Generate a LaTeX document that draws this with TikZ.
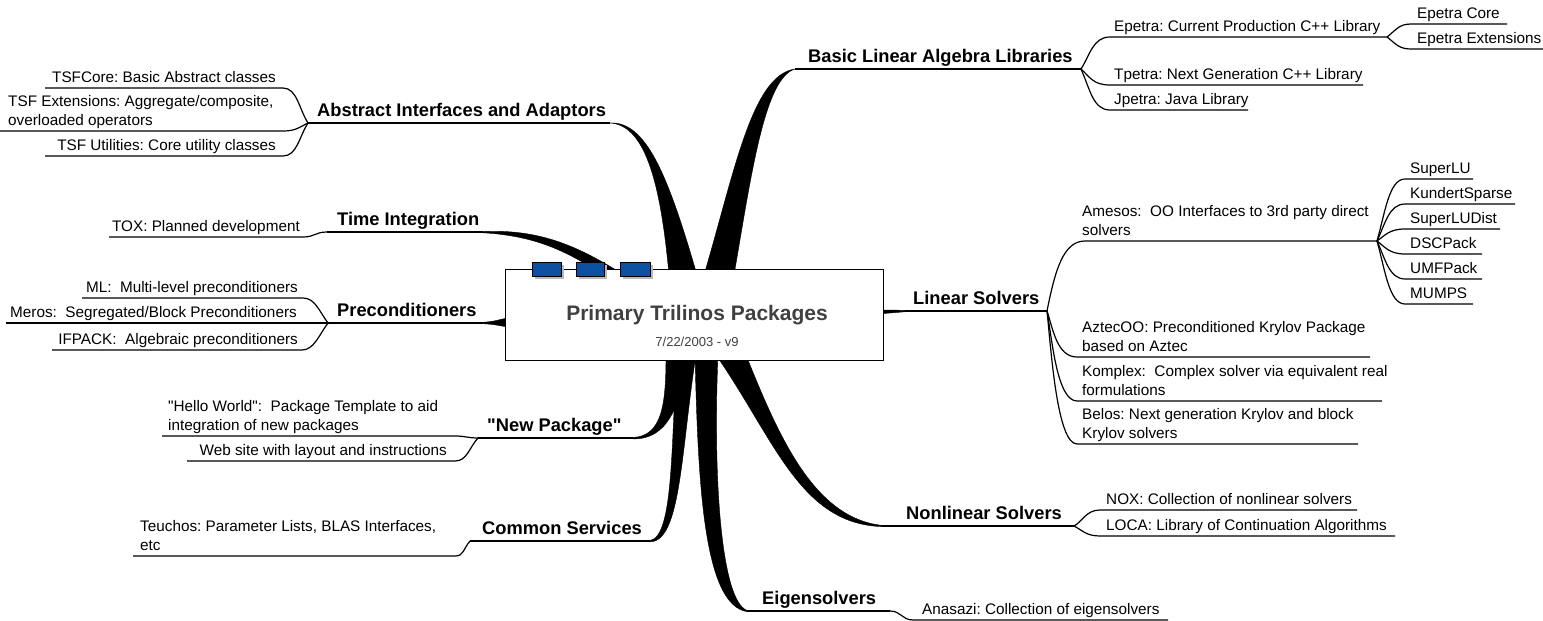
\documentclass[tikz,border=0pt]{standalone}
\usepackage{fontspec}
\setmainfont{Liberation Sans}[Ligatures=TeXOff]
\definecolor{tblue}{RGB}{12,80,162}
\definecolor{tshadow}{RGB}{185,185,185}
\definecolor{ttitle}{RGB}{64,64,64}
\frenchspacing
\begin{document}
\frenchspacing
\begin{tikzpicture}[x=1pt,y=-1pt,
  leaf/.style={inner sep=0pt, font=\fontsize{15.3}{18.6}\selectfont, align=left},
  cat/.style={inner sep=0pt, font=\fontsize{18.3}{22}\selectfont\bfseries},
  uline/.style={line width=1.2pt},
  wedge/.style={fill=black, draw=black, line width=0.4pt, line join=round},
  bluetab/.style={draw=black, fill=tblue, line width=0.8pt, inner sep=0pt, anchor=north west, minimum height=14pt}]
\useasboundingbox (0,0) rectangle (1543,621);

% ---------- tapered main branches ----------
\fill[wedge] (669,275) .. controls (660,175) and (643,125) .. (610,123) .. controls (646,121) and (668,175) .. (697,275) -- cycle;
\fill[wedge] (704,275) .. controls (735,170) and (752,75) .. (795,69) .. controls (765,78) and (752,170) .. (734,275) -- cycle;
\fill[wedge] (483,231.5) .. controls (540,229) and (578,246) .. (624,275) -- (604,275) .. controls (570,254) and (540,236) .. (483,232.8) -- cycle;
\fill[wedge] (480,322.4) .. controls (495,322) and (500,319) .. (508,318) -- (508,327) .. controls (500,326) and (495,324) .. (480,323.6) -- cycle;
\fill[wedge] (878,310) .. controls (890,310) .. (907,310.4) -- (907,311.6) .. controls (890,313) .. (878,314) -- cycle;
\fill[wedge] (666,355) .. controls (666,405) and (662,436) .. (633,437.5) -- (633,438.8) .. controls (668,440) and (680,405) .. (690,355) -- cycle;
\fill[wedge] (677,355) .. controls (671,440) and (674,537) .. (650,540.5) -- (650,541.8) .. controls (681,542) and (681,450) .. (696,355) -- cycle;
\fill[wedge] (695,355) .. controls (698,480) and (703,605) .. (747,611.6) -- (747,610.4) .. controls (720,600) and (713,470) .. (718,355) -- cycle;
\fill[wedge] (716,355) .. controls (775,440) and (800,524) .. (882,526.6) -- (882,525.4) .. controls (815,518) and (780,440) .. (746,355) -- cycle;

% ---------- central box ----------
\node[draw=black, fill=white, line width=1pt, inner sep=0pt, minimum width=378pt, minimum height=91pt, anchor=north west] (core) at (505,269) {};
\node[font=\fontsize{21}{25}\selectfont\bfseries, text=ttitle, anchor=base, inner sep=0pt] (title) at (697,320) {Primary Trilinos Packages};
\node[font=\fontsize{13}{15}\selectfont, text=ttitle, anchor=base, inner sep=0pt] (date) at (697,346) {7/22/2003 - v9};
\fill[tshadow] (535,265) rectangle (564,279);
\fill[tshadow] (579,265) rectangle (607,279);
\fill[tshadow] (623,265) rectangle (653,279);
\node[bluetab, minimum width=29pt] (tab1) at (532,262) {};
\node[bluetab, minimum width=28pt] (tab2) at (576,262) {};
\node[bluetab, minimum width=30pt] (tab3) at (620,262) {};

% ---------- Abstract Interfaces ----------
\coordinate (hA) at (308,123); \coordinate (absE) at (610,123);
\draw[uline] (hA) -- (absE);
\node[cat, anchor=south west] (abs) at (317,123) {Abstract Interfaces and Adaptors\strut};
\coordinate (tsfcL) at (45,88); \coordinate (tsfcR) at (283,88);
\node[leaf, anchor=south east] (tsfc) at (276,88) {TSFCore: Basic Abstract classes\strut};
\draw[uline] (tsfcL) -- (tsfcR) .. controls +(14,0) and +(-9,-14) .. (hA);
\coordinate (tsfeL) at (0,131); \coordinate (tsfeR) at (283,131);
\node[leaf, anchor=south west] (tsfe) at (8,131) {TSF Extensions: Aggregate/composite,\\overloaded operators\strut};
\draw[uline] (tsfeL) -- (tsfeR) .. controls +(12,0) and +(-10,5) .. (hA);
\coordinate (tsfuL) at (45,156); \coordinate (tsfuR) at (283,156);
\node[leaf, anchor=south east] (tsfu) at (276,156) {TSF Utilities: Core utility classes\strut};
\draw[uline] (tsfuL) -- (tsfuR) .. controls +(14,0) and +(-9,14) .. (hA);

% ---------- Time Integration ----------
\coordinate (hT) at (327,232); \coordinate (timE) at (483,232);
\draw[uline] (hT) -- (timE);
\node[cat, anchor=south west] (tim) at (337,232) {Time Integration\strut};
\coordinate (toxL) at (109,237); \coordinate (toxR) at (303,237);
\node[leaf, anchor=south east] (tox) at (300,237) {TOX: Planned development\strut};
\draw[uline] (toxL) -- (toxR) .. controls +(12,0) and +(-12,0) .. (hT);

% ---------- Preconditioners ----------
\coordinate (hP) at (328,323); \coordinate (preE) at (483,323);
\draw[uline] (hP) -- (preE);
\node[cat, anchor=south west] (pre) at (337,323) {Preconditioners\strut};
\coordinate (mlL) at (82,298); \coordinate (mlR) at (303,298);
\node[leaf, anchor=south east] (ml) at (298,298) {ML:\ \ Multi-level preconditioners\strut};
\draw[uline] (mlL) -- (mlR) .. controls +(12,0) and +(-9,-12) .. (hP);
\coordinate (merL) at (6,323);
\node[leaf, anchor=south east] (mer) at (297,323) {Meros:\ \ Segregated/Block Preconditioners\strut};
\draw[uline] (merL) -- (hP);
\coordinate (ifL) at (52,350); \coordinate (ifR) at (302,350);
\node[leaf, anchor=south east] (ifp) at (298,350) {IFPACK:\ \ Algebraic preconditioners\strut};
\draw[uline] (ifL) -- (ifR) .. controls +(12,0) and +(-9,12) .. (hP);

% ---------- New Package ----------
\coordinate (hN) at (478,438); \coordinate (newE) at (633,438);
\draw[uline] (hN) -- (newE);
\node[cat, anchor=south west] (new) at (487,438) {"New Package"\strut};
\coordinate (helL) at (162,436); \coordinate (helR) at (455,436);
\node[leaf, anchor=south west] (hel) at (168,436) {"Hello World":\ \ Package Template to aid\\integration of new packages\strut};
\draw[uline] (helL) -- (helR) .. controls +(10,0) and +(-10,0) .. (hN);
\coordinate (webL) at (187,461); \coordinate (webR) at (455,461);
\node[leaf, anchor=south east] (web) at (447,461) {Web site with layout and instructions\strut};
\draw[uline] (webL) -- (webR) .. controls +(12,0) and +(-9,10) .. (hN);

% ---------- Common Services ----------
\coordinate (hC) at (470,541); \coordinate (comE) at (650,541);
\draw[uline] (hC) -- (comE);
\node[cat, anchor=south west] (com) at (482,541) {Common Services\strut};
\coordinate (teuL) at (133,556); \coordinate (teuR) at (455,556);
\node[leaf, anchor=south west] (teu) at (140,556) {Teuchos: Parameter Lists, BLAS Interfaces,\\etc\strut};
\draw[uline] (teuL) -- (teuR) .. controls +(9,0) and +(-7,8) .. (hC);

% ---------- Eigensolvers ----------
\coordinate (eigS) at (747,611); \coordinate (eigE) at (890,611);
\draw[uline] (eigS) -- (eigE);
\node[cat, anchor=south west] (eig) at (762,611) {Eigensolvers\strut};
\coordinate (anaL) at (913,620); \coordinate (anaR) at (1168,620);
\node[leaf, anchor=south west] (ana) at (922,620) {Anasazi: Collection of eigensolvers\strut};
\draw[uline] (eigE) .. controls +(11,0) and +(-11,0) .. (anaL) -- (anaR);

% ---------- Nonlinear Solvers ----------
\coordinate (nonS) at (882,526); \coordinate (hNL) at (1074,526);
\draw[uline] (nonS) -- (hNL);
\node[cat, anchor=south west] (non) at (906,526) {Nonlinear Solvers\strut};
\coordinate (noxL) at (1100,510); \coordinate (noxR) at (1357,510);
\node[leaf, anchor=south west] (nox) at (1106,510) {NOX: Collection of nonlinear solvers\strut};
\draw[uline] (hNL) .. controls +(8,-4) and +(-14,0) .. (noxL) -- (noxR);
\coordinate (locL) at (1100,536); \coordinate (locR) at (1395,536);
\node[leaf, anchor=south west] (loc) at (1106,536) {LOCA: Library of Continuation Algorithms\strut};
\draw[uline] (hNL) .. controls +(8,4) and +(-14,0) .. (locL) -- (locR);

% ---------- Linear Solvers ----------
\coordinate (linS) at (905,311); \coordinate (hL) at (1047,311);
\draw[uline] (linS) -- (hL);
\node[cat, anchor=south west] (lin) at (913,311) {Linear Solvers\strut};
\coordinate (amL) at (1085,241); \coordinate (hAm) at (1377,241);
\node[leaf, anchor=south west] (ame) at (1082,241) {Amesos:\ \ OO Interfaces to 3rd party direct\\solvers\strut};
\draw[uline] (hL) .. controls +(8,-40) and +(-22,0) .. (amL) -- (hAm);
\foreach \nm/\yy/\xr/\txt in {slu/179/1473/SuperLU, kun/204/1515/KundertSparse, sld/229/1500/SuperLUDist, dsc/254/1482/DSCPack, umf/279/1482/UMFPack, mum/304/1473/MUMPS} {
  \coordinate (L\nm) at (1405,\yy);
  \coordinate (R\nm) at (\xr,\yy);
  \node[leaf, anchor=south west] (\nm) at (1410,\yy) {\txt\strut};
  \draw[uline] (hAm) .. controls +(8,{(\yy-241)*0.45}) and +(-16,0) .. (L\nm) -- (R\nm);
}
\coordinate (aztL) at (1077,357); \coordinate (aztR) at (1370,357);
\node[leaf, anchor=south west] (azt) at (1082,357) {AztecOO: Preconditioned Krylov Package\\based on Aztec\strut};
\draw[uline] (hL) .. controls +(6,18) and +(-20,0) .. (aztL) -- (aztR);
\coordinate (komL) at (1077,401); \coordinate (komR) at (1382,401);
\node[leaf, anchor=south west] (kom) at (1082,401) {Komplex:\ \ Complex solver via equivalent real\\formulations\strut};
\draw[uline] (hL) .. controls +(5,28) and +(-20,0) .. (komL) -- (komR);
\coordinate (belL) at (1077,444); \coordinate (belR) at (1358,444);
\node[leaf, anchor=south west] (bel) at (1082,444) {Belos: Next generation Krylov and block\\Krylov solvers\strut};
\draw[uline] (hL) .. controls +(4,38) and +(-20,0) .. (belL) -- (belR);

% ---------- Basic Linear Algebra ----------
\coordinate (blaS) at (795,69); \coordinate (hB) at (1081,69);
\draw[uline] (blaS) -- (hB);
\node[cat, anchor=south west] (bla) at (808,69) {Basic Linear Algebra Libraries\strut};
\coordinate (epeL) at (1110,37); \coordinate (hE) at (1387,37);
\node[leaf, anchor=south west] (epe) at (1114,37) {Epetra: Current Production C++ Library\strut};
\draw[uline] (hB) .. controls +(9,-14) and +(-17,0) .. (epeL) -- (hE);
\coordinate (ecL) at (1411,24); \coordinate (ecR) at (1507,24);
\node[leaf, anchor=south west] (ec) at (1417,24) {Epetra Core\strut};
\draw[uline] (hE) .. controls +(9,-7) and +(-12,0) .. (ecL) -- (ecR);
\coordinate (exL) at (1411,49); \coordinate (exR) at (1543,49);
\node[leaf, anchor=south west] (ex) at (1417,49) {Epetra Extensions\strut};
\draw[uline] (hE) .. controls +(9,7) and +(-12,0) .. (exL) -- (exR);
\coordinate (tpL) at (1110,85); \coordinate (tpR) at (1363,85);
\node[leaf, anchor=south west] (tp) at (1114,85) {Tpetra: Next Generation C++ Library\strut};
\draw[uline] (hB) .. controls +(9,8) and +(-17,0) .. (tpL) -- (tpR);
\coordinate (jpL) at (1110,110); \coordinate (jpR) at (1248,110);
\node[leaf, anchor=south west] (jp) at (1114,110) {Jpetra: Java Library\strut};
\draw[uline] (hB) .. controls +(9,20) and +(-17,0) .. (jpL) -- (jpR);
\end{tikzpicture}
\end{document}
